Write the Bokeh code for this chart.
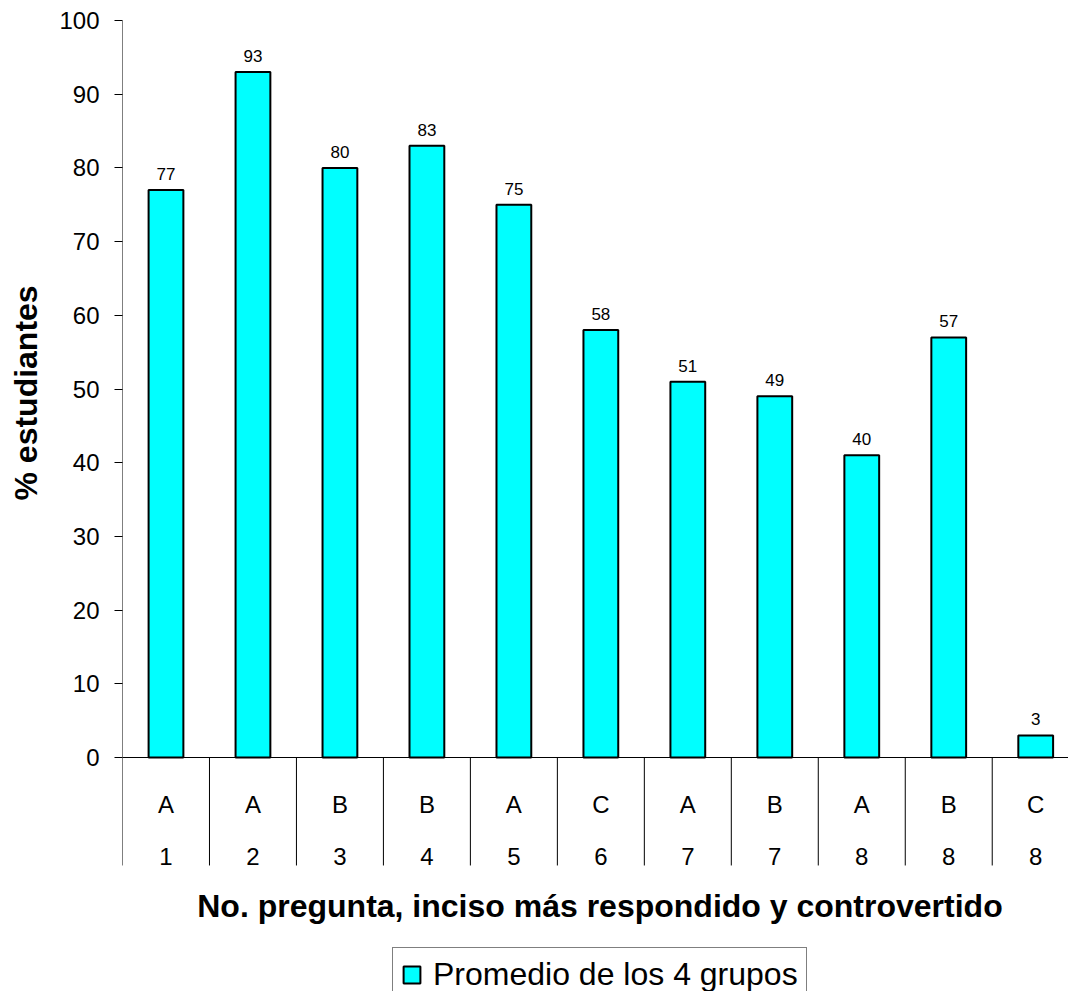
from bokeh.plotting import figure
from bokeh.models import ColumnDataSource, FixedTicker, Legend, LegendItem, Title
from bokeh.core.properties import value
from bokeh.embed import file_html
from bokeh.resources import INLINE

# ---- data ----
preguntas = ["1", "2", "3", "4", "5", "6", "7", "7", "8", "8", "8"]
incisos = ["A", "A", "B", "B", "A", "C", "A", "B", "A", "B", "C"]
valores = [77, 93, 80, 83, 75, 58, 51, 49, 41, 57, 3]
etiquetas = ["77", "93", "80", "83", "75", "58", "51", "49", "40", "57", "3"]
y_ticks = [0, 10, 20, 30, 40, 50, 60, 70, 80, 90, 100]
serie = "Promedio de los 4 grupos"
titulo_x = "No. pregunta, inciso más respondido y controvertido"
titulo_y = "% estudiantes"

FONT = "Liberation Sans"
n = len(valores)
xs = [i + 0.5 for i in range(n)]

src = ColumnDataSource(dict(x=xs, top=valores, lab=etiquetas,
                            inc=incisos, preg=preguntas))

p = figure(width=1068, height=991, output_backend="svg", toolbar_location=None,
           x_range=(0, 10.877), y_range=(-31.75, 100),
           min_border_left=122, min_border_right=0, min_border_top=20,
           min_border_bottom=0, x_axis_location=None, y_axis_location="left")
p.outline_line_color = None
p.xgrid.visible = False
p.ygrid.visible = False
p.background_fill_color = "white"
p.border_fill_color = "white"

ax = p.yaxis[0]
ax.ticker = FixedTicker(ticks=y_ticks)
ax.axis_line_color = None
ax.major_tick_out = 8
ax.major_tick_in = 0
ax.major_tick_line_color = "#000000"
ax.minor_tick_line_color = None
ax.major_label_text_font = FONT
ax.major_label_text_font_size = "24px"
ax.major_label_text_color = "#000000"
ax.major_label_standoff = 15

# y axis line and category axis
p.segment(x0=[0], y0=[0], x1=[0], y1=[100], line_color="#000000", line_width=1)
p.segment(x0=[0], y0=[0], x1=[n], y1=[0], line_color="#000000", line_width=1)
p.segment(x0=list(range(n)), y0=[0] * n, x1=list(range(n)), y1=[-14.65] * n,
          line_color="#000000", line_width=1)

bars = p.vbar(x="x", top="top", bottom=0, width=0.4, source=src,
              fill_color="#00FFFF", line_color="#000000", line_width=2)

p.text(x="x", y="top", text="lab", source=src, text_align="center",
       text_baseline="alphabetic", y_offset=-16, text_font=value(FONT),
       text_font_size="17px", text_color="#000000")
p.text(x="x", y=-6.38, text="inc", source=src, text_align="center",
       text_baseline="alphabetic", text_font=value(FONT),
       text_font_size="24px", text_color="#000000")
p.text(x="x", y=-13.5, text="preg", source=src, text_align="center",
       text_baseline="alphabetic", text_font=value(FONT),
       text_font_size="24px", text_color="#000000")
p.text(x=[5.49], y=[-20.2], text=[titulo_x], text_align="center",
       text_baseline="alphabetic", text_font=value(FONT),
       text_font_size="32px", text_font_style="bold", text_color="#000000")

# small spacer between the axis and its title
p.add_layout(Title(text=" ", text_font_size="1px", standoff=5), "left")
p.add_layout(Title(text=titulo_y, align="left", offset=491,
                   text_font=FONT, text_font_size="32px",
                   text_font_style="bold", text_color="#000000",
                   standoff=10), "left")

legend = Legend(items=[LegendItem(label=serie, renderers=[bars])],
                location=(270, -11), orientation="vertical",
                label_text_font=FONT, label_text_font_size="32px",
                label_text_color="#000000", glyph_width=21, glyph_height=21,
                padding=8, margin=0, label_standoff=11, spacing=0,
                border_line_color="#000000", border_line_width=1,
                background_fill_color="white", background_fill_alpha=1.0)
p.add_layout(legend, "center")

open("out.html", "w").write(file_html(p, INLINE))
